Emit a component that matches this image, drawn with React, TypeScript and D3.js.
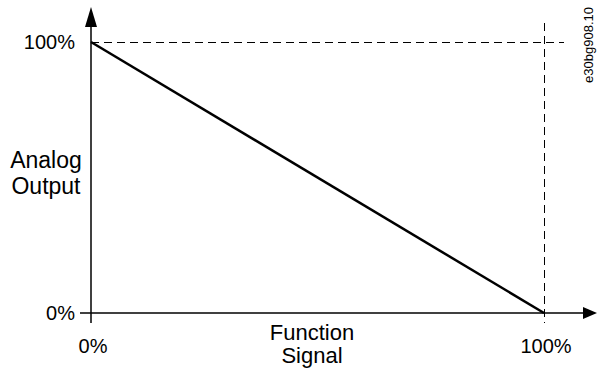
import { useEffect, useRef } from 'react';
import * as d3 from 'd3';

// Function signal (%) vs analog output (%)
const signal = [0, 100];
const output = [100, 0];
const xTicks = [0, 100];
const yTicks = [0, 100];
const xTitle = ['Function', 'Signal'];
const yTitle = ['Analog', 'Output'];
const figureId = 'e30bg908.10';

function App() {
  const svgRef = useRef<SVGSVGElement>(null);

  useEffect(() => {
    const width = 597;
    const height = 374;
    const font = '"Liberation Sans", Arial, sans-serif';

    const svg = d3.select(svgRef.current)
      .attr('width', width)
      .attr('height', height);
    svg.selectAll('*').remove();

    const x = d3.scaleLinear().domain([0, 100]).range([91, 544]);
    const y = d3.scaleLinear().domain([0, 100]).range([313, 42]);

    // dashed reference lines at 100%
    svg.append('line')
      .attr('x1', x(0)).attr('x2', 564)
      .attr('y1', y(100) + 0.5).attr('y2', y(100) + 0.5)
      .attr('stroke', '#000').attr('stroke-width', 1)
      .attr('stroke-dasharray', '8,5');
    svg.append('line')
      .attr('x1', x(100) + 0.5).attr('x2', x(100) + 0.5)
      .attr('y1', 23).attr('y2', y(0) + 10)
      .attr('stroke', '#000').attr('stroke-width', 1)
      .attr('stroke-dasharray', '8,5');

    // axes
    svg.append('line')
      .attr('x1', x(0)).attr('x2', x(0))
      .attr('y1', 26).attr('y2', y(0) + 10)
      .attr('stroke', '#000').attr('stroke-width', 1.5);
    svg.append('path')
      .attr('d', `M${x(0)},7L${x(0) - 6},27L${x(0) + 6},27Z`)
      .attr('fill', '#000');
    svg.append('line')
      .attr('x1', x(0) - 11).attr('x2', 584)
      .attr('y1', y(0)).attr('y2', y(0))
      .attr('stroke', '#000').attr('stroke-width', 1.5);
    svg.append('path')
      .attr('d', `M597,${y(0)}L583,${y(0) - 6}L583,${y(0) + 6}Z`)
      .attr('fill', '#000');

    // the line
    const line = d3.line<number>()
      .x((d, i) => x(signal[i]))
      .y(d => y(d));
    svg.append('path')
      .datum(output)
      .attr('fill', 'none')
      .attr('stroke', '#000')
      .attr('stroke-width', 2.5)
      .attr('d', line);

    // tick labels
    svg.selectAll('.ytick')
      .data(yTicks)
      .enter().append('text')
      .attr('x', 75)
      .attr('y', d => y(d))
      .attr('dy', '0.36em')
      .attr('text-anchor', 'end')
      .style('font-family', font)
      .style('font-size', '20px')
      .text(d => `${d}%`);
    svg.selectAll('.xtick')
      .data(xTicks)
      .enter().append('text')
      .attr('x', d => x(d) + 2)
      .attr('y', 353)
      .attr('text-anchor', 'middle')
      .style('font-family', font)
      .style('font-size', '20px')
      .text(d => `${d}%`);

    // axis titles
    svg.append('text')
      .attr('x', 312).attr('y', 340)
      .attr('text-anchor', 'middle')
      .style('font-family', font)
      .style('font-size', '22px')
      .selectAll('tspan')
      .data(xTitle)
      .enter().append('tspan')
      .attr('x', 312)
      .attr('dy', (d, i) => (i === 0 ? 0 : 23))
      .text(d => d);
    svg.append('text')
      .attr('x', 46).attr('y', 168)
      .attr('text-anchor', 'middle')
      .style('font-family', font)
      .style('font-size', '23px')
      .selectAll('tspan')
      .data(yTitle)
      .enter().append('tspan')
      .attr('x', 46)
      .attr('dy', (d, i) => (i === 0 ? 0 : 26))
      .text(d => d);

    // figure id
    svg.append('text')
      .attr('transform', 'translate(593,45) rotate(-90)')
      .attr('text-anchor', 'middle')
      .style('font-family', font)
      .style('font-size', '13px')
      .text(figureId);
  }, []);

  return (
    <svg ref={svgRef} style={{ position: 'absolute', left: 0, top: 0, background: '#fff' }}></svg>
  );
}

export default App;
